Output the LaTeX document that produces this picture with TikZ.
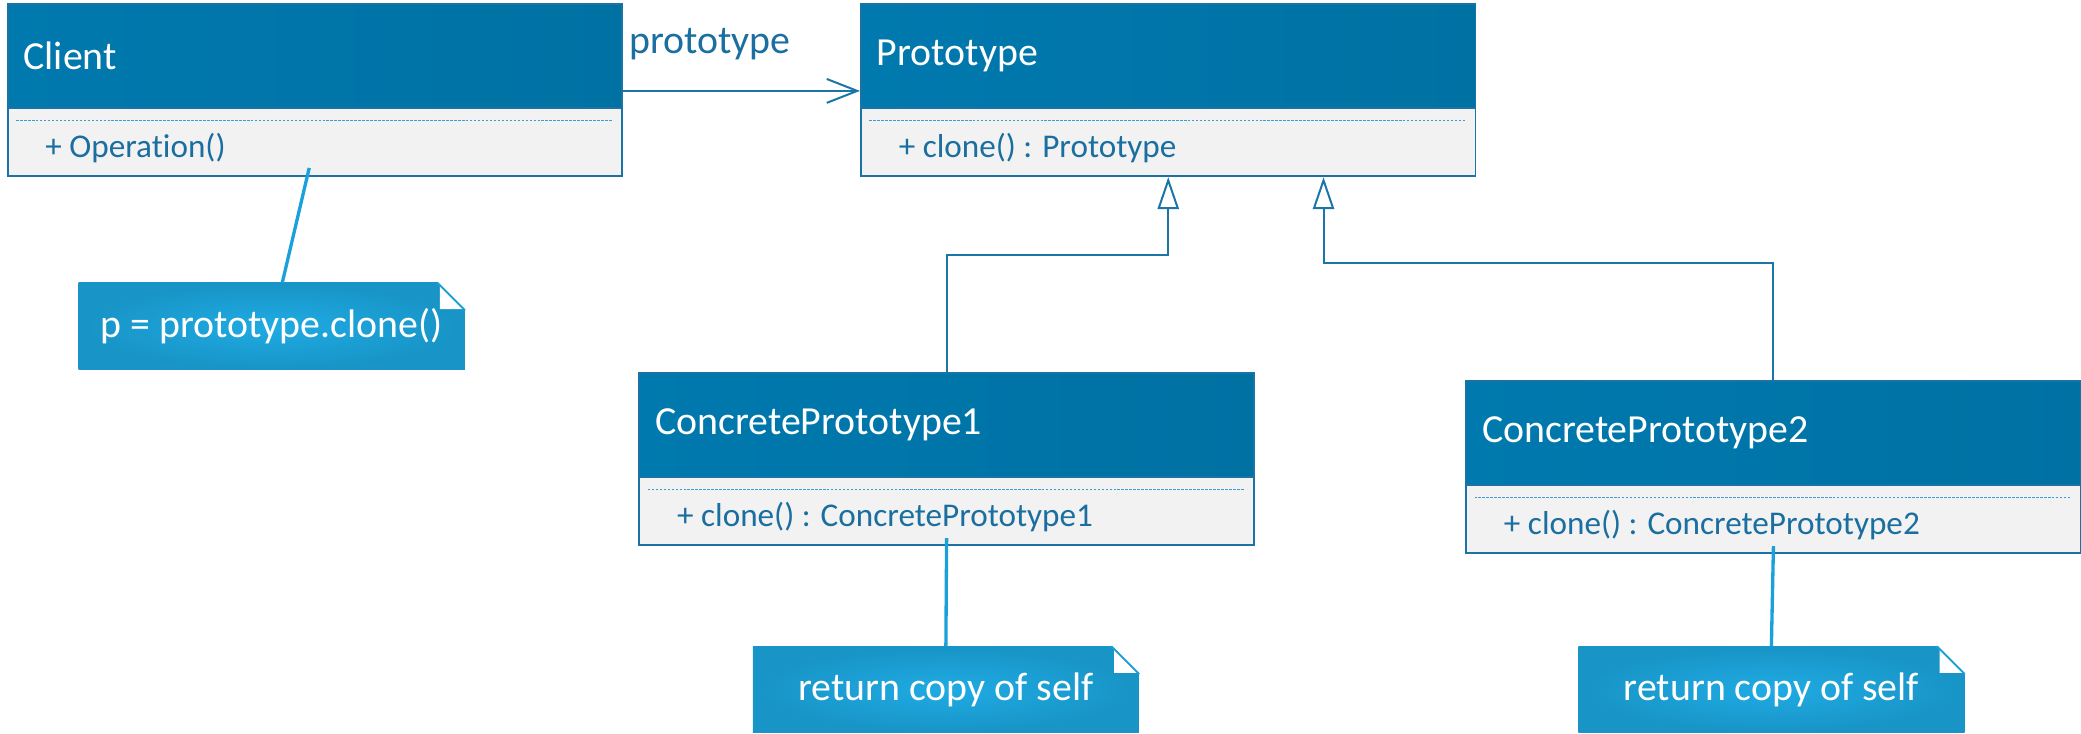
\documentclass[tikz,border=0pt]{standalone}
\usepackage{fontspec}
\setmainfont{Carlito}[Ligatures={NoCommon,NoRare,NoContextual}]
\usetikzlibrary{arrows.meta,calc}
\definecolor{bord}{HTML}{1A72A5}
\definecolor{hdrL}{HTML}{0079AE}
\definecolor{hdrM}{HTML}{0083BB}
\definecolor{hdrR}{HTML}{0071A3}
\definecolor{bodyfill}{HTML}{F2F2F2}
\definecolor{membertxt}{HTML}{1A6EA0}
\definecolor{dashc}{HTML}{3D9BCF}
\definecolor{noteC}{HTML}{1FABE3}
\definecolor{noteE}{HTML}{1894C6}
\definecolor{notelink}{HTML}{1BA1DA}
\definecolor{genc}{HTML}{1A75A8}
\newcommand\titlefont{\fontsize{30}{36}\selectfont}
\newcommand\memberfont{\fontsize{25}{30}\selectfont}
\newcommand\umlclass[6]{%
  \node[classbody] (#1b) at ($(#2,#3)+(0,79)$) {};
  \node[classhead] (#1h) at (#2,#3) {#4};
  \draw[dashline] ($(#1b.north west)+(7,10)$) -- ($(#1b.north east)+(-8,10)$);
  \node[member] (#1m) at ($(#1b.west)+(29,4)$) {#5};
}
\newcommand\umlnote[4]{%
  \node[notebox] (#1) at (#2,#3) {#4};
  \fill[white] ($(#1.north east)+(-21,-1)$) -- ($(#1.north east)+(1,-1)$) -- ($(#1.north east)+(1,21)$) -- cycle;
  \draw[notelink, line width=1.5pt] ($(#1.north east)+(-21,0)$) -- ($(#1.north east)+(0,21)$);
  \fill[white] ($(#1.north east)+(-19,3)$) -- ($(#1.north east)+(-19,20)$) -- ($(#1.north east)+(-2,20)$) -- cycle;
}
\begin{document}
\begin{tikzpicture}[x=1pt,y=-1pt,
  classhead/.style={draw=bord, line width=1.5pt, anchor=north west,
    minimum width=463pt, minimum height=79pt, inner xsep=12pt, text width=439pt, align=left,
    left color=hdrL, middle color=hdrM, right color=hdrR, text=white, font=\titlefont},
  classbody/.style={draw=bord, line width=1.5pt, anchor=north west, fill=bodyfill,
    minimum width=463pt, minimum height=51pt},
  member/.style={anchor=west, inner sep=0pt, text=membertxt, font=\memberfont},
  dashline/.style={draw=dashc, line width=1pt, dash pattern=on 2pt off 1pt},
  notebox/.style={anchor=north west, minimum width=291pt, minimum height=65pt,
    inner color=noteC, outer color=noteE, text=white, font=\titlefont},
  notelinestyle/.style={draw=notelink, line width=2.5pt},
  gen/.style={draw=genc, line width=1.5pt, -{Triangle[open, fill=white, length=24pt, width=16pt]}},
  assoc/.style={draw=genc, line width=1.5pt, -{Straight Barb[length=23pt, width=18pt]}},
  lbl/.style={anchor=west, inner sep=0pt, text=membertxt, font=\titlefont}
]
\useasboundingbox (0,0) rectangle (1568,553);

\umlclass{client}{5}{2}{Client}{+ Operat\kern0pt ion()}{}
\umlclass{proto}{648}{2}{Prototype}{+ clone() : Prototype}{}
\umlclass{cpa}{481}{280}{ConcretePrototype1}{+ clone() : ConcretePrototype1}{}
\umlclass{cpb}{1104}{286}{ConcretePrototype2}{+ clone() : ConcretePrototype2}{}

% association
\draw[assoc] ($(clienth.south east)+(0,-14)$) -- ($(protoh.south west)+(0,-14)$);
\node[lbl] (assoclbl) at (474,33) {prototype};

% generalizations
\draw[gen] (cpah.north) |- ($(protob.south)+(0,59)$) -- (protob.south);
\coordinate (protoGen2) at ($(protob.south)+(117,0)$);
\draw[gen] (cpbh.north) |- ($(protoGen2)+(0,65)$) -- (protoGen2);

% notes
\umlnote{clientnote}{59}{213}{p = prototype.clone()}
\umlnote{cpanote}{567}{487}{return copy of self}
\umlnote{cpbnote}{1189}{487}{return copy of self}

\coordinate (clientAttach) at ($(clientb.south west)+(228,-7)$);
\draw[notelinestyle] (clientAttach) -- ($(clientnote.north)+(8,0)$);
\coordinate (cpaAttach) at ($(cpab.south)+(0,-6)$);
\draw[notelinestyle] (cpaAttach) -- (cpanote.north);
\coordinate (cpbAttach) at ($(cpbb.south)+(0,-6)$);
\draw[notelinestyle] (cpbAttach) -- (cpbnote.north);
\end{tikzpicture}
\end{document}
